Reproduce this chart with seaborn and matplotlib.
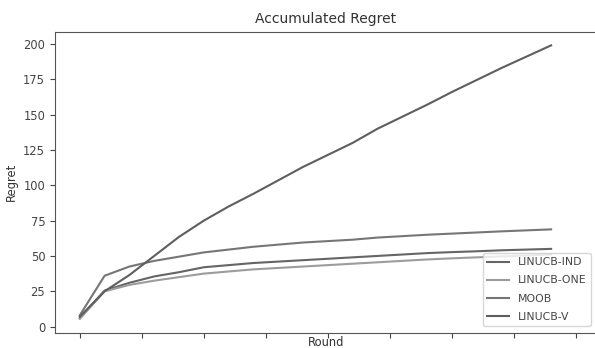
import numpy as np
import pandas as pd
import matplotlib
matplotlib.use("Agg")
import matplotlib.pyplot as plt
import seaborn as sns
from matplotlib.ticker import MultipleLocator, NullFormatter

rounds = list(range(20))
linucb_ind = [6, 25.5, 31, 35.5, 38.5, 42, 43.5, 45, 46, 47, 48, 49, 50, 51, 52, 52.7, 53.3, 54, 54.5, 55]
linucb_one = [5.5, 25, 29.5, 32.5, 35, 37.5, 39, 40.5, 41.5, 42.5, 43.5, 44.5, 45.5, 46.5, 47.5, 48.3, 49, 49.7, 50.3, 51]
moob = [8, 36, 42.5, 46.5, 49.5, 52.5, 54.5, 56.5, 58, 59.5, 60.5, 61.5, 63, 64, 65, 65.8, 66.6, 67.4, 68.1, 68.8]
linucb_v = [7, 25, 36.5, 50, 63.5, 75, 85, 94, 103.5, 113, 121.5, 130, 140, 148.5, 157, 166, 174.5, 183, 191, 199]
names = ["LINUCB-IND", "LINUCB-ONE", "MOOB", "LINUCB-V"]
series = [linucb_ind, linucb_one, moob, linucb_v]

df = pd.DataFrame({
    "Round": rounds * len(names),
    "Regret": sum(series, []),
    "Algorithm": sum([[n] * len(rounds) for n in names], []),
})

colors = {"LINUCB-IND": "#656565", "LINUCB-ONE": "#9c9c9c", "MOOB": "#767676", "LINUCB-V": "#5e5e5e"}

fig = plt.figure(figsize=(5.95, 3.48), dpi=100)
ax = fig.add_axes([55/595, 1 - 332.5/348, (597-55)/595, (332.5-31.7)/348])
sns.lineplot(data=df, x="Round", y="Regret", hue="Algorithm", palette=colors, linewidth=1.5, ax=ax)

ax.set_xlim(-1.0, 20.85)
ax.xaxis.set_major_locator(MultipleLocator(2.5))
ax.xaxis.set_major_formatter(NullFormatter())
ax.set_yticks([0, 25, 50, 75, 100, 125, 150, 175, 200])
ax.tick_params(labelsize=8.3, colors="#444444")
for s in ax.spines.values():
    s.set_color("#555555")
ax.set_title("Accumulated Regret", fontsize=10, color="#333333")
ax.set_xlabel("Round", fontsize=8.3, color="#333333")
ax.xaxis.set_label_coords(0.5, -0.012)
ax.set_ylabel("Regret", fontsize=8.3, color="#333333")
ax.legend(loc="lower right", fontsize=7.8, frameon=True, borderaxespad=0.6,
          handlelength=2.0, labelspacing=0.75)
for t in ax.get_legend().get_texts():
    t.set_color("#444444")

fig.savefig("out.png", dpi=100)
